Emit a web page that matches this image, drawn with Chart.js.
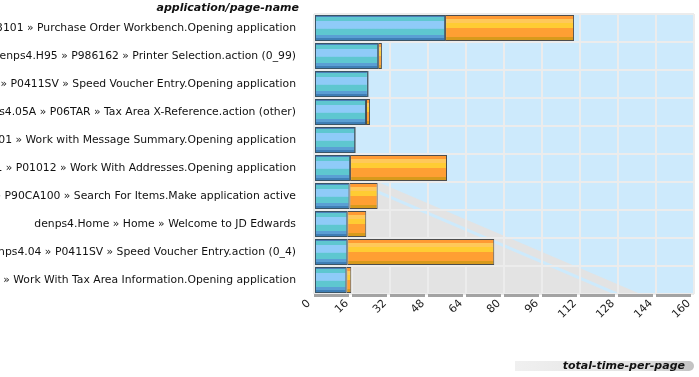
<!DOCTYPE html>
<html>
<head>
<meta charset="utf-8">
<script src="https://cdn.jsdelivr.net/npm/chart.js@4.4.1/dist/chart.umd.min.js"></script>
<style>
    html, body { margin: 0; padding: 0; background: #fff; }
    #wrap { width: 699px; height: 377px; position: relative; }
</style>
</head>
<body>
<div id="wrap"><canvas id="pageChart"></canvas></div>
<script>
    const pageNames = [
        'denps4.W43101A » P43101 » Purchase Order Workbench.Opening application',
        'denps4.H95 » P986162 » Printer Selection.action (0_99)',
        'denps4.W0411SVA » P0411SV » Speed Voucher Entry.Opening application',
        'denps4.05A » P06TAR » Tax Area X-Reference.action (other)',
        'denps4.W012501A » P012501 » Work with Message Summary.Opening application',
        'denps4.W01012B1 » P01012 » Work With Addresses.Opening application',
        'denps4.W90CA100A » P90CA100 » Search For Items.Make application active',
        'denps4.Home » Home » Welcome to JD Edwards',
        'denps4.04 » P0411SV » Speed Voucher Entry.action (0_4)',
        'denps4.W4008A » P4008 » Work With Tax Area Information.Opening application'
    ];
    const serverTime = [55.2, 27.0, 22.7, 21.9, 17.3, 15.2, 14.9, 14.0, 14.0, 13.6];
    const clientTime = [54.3, 1.6, 0.3, 1.7, 0.3, 40.8, 11.9, 8.0, 61.9, 2.1];
    const timeTicks = [0, 16, 32, 48, 64, 80, 96, 112, 128, 144, 160];

    const FONT = '"DejaVu Sans", sans-serif';
    const BAR_PCT = 0.93;

    // horizontal stripes inside each bar
    const blueStripes = [
        [0.00, '#4a80b8'], [0.07, '#5ec7d0'], [0.24, '#8fcbf8'],
        [0.52, '#5ec7d0'], [0.76, '#5a9fd4'], [0.90, '#3f7fb6']
    ];
    const orangeStripes = [
        [0.00, '#ff9a33'], [0.14, '#ffc85a'], [0.30, '#ffcc33'],
        [0.50, '#ff9f33'], [0.86, '#d89a1c']
    ];

    function stripedFill(stripes, fallback) {
        return function(context) {
            const chart = context.chart;
            const yScale = chart.scales.y;
            if (!chart.chartArea || !yScale) return fallback;
            const center = yScale.getPixelForValue(context.dataIndex);
            const half = yScale.height / pageNames.length * BAR_PCT / 2;
            const g = chart.ctx.createLinearGradient(0, center - half, 0, center + half);
            stripes.forEach((s, i) => {
                const next = i + 1 < stripes.length ? stripes[i + 1][0] : 1;
                g.addColorStop(s[0], s[1]);
                g.addColorStop(Math.max(s[0], next - 0.001), s[1]);
            });
            return g;
        };
    }

    // plot background: light blue with the grey diagonal region
    const backdrop = {
        id: 'backdrop',
        beforeDraw(chart) {
            const { ctx, chartArea: a, scales: { x } } = chart;
            ctx.save();
            ctx.beginPath();
            ctx.rect(a.left, a.top, a.right - a.left, a.bottom - a.top);
            ctx.clip();
            ctx.fillStyle = '#cdeafc';
            ctx.fillRect(a.left, a.top, a.right - a.left, a.bottom - a.top);

            const rowH = (a.bottom - a.top) / pageNames.length;
            const x1 = x.getPixelForValue(27), y1 = a.top + rowH * 6;
            const x2 = x.getPixelForValue(137.5), y2 = a.bottom;
            const slope = (y2 - y1) / (x2 - x1);
            const yLeft = y1 - (x1 - a.left) * slope;

            ctx.fillStyle = '#e3e3e3';
            ctx.beginPath();
            ctx.moveTo(a.left, yLeft);
            ctx.lineTo(x2, y2);
            ctx.lineTo(a.left, a.bottom);
            ctx.closePath();
            ctx.fill();

            ctx.strokeStyle = '#cdeafc';
            ctx.lineWidth = 3;
            ctx.beginPath();
            ctx.moveTo(a.left, yLeft + 10);
            ctx.lineTo(x2, y2 + 10);
            ctx.stroke();
            ctx.restore();
        },
        afterDraw(chart) {
            const { ctx, chartArea: a, scales: { x } } = chart;
            ctx.save();
            // broken axis line
            ctx.fillStyle = '#a3a3a3';
            for (let i = 0; i < timeTicks.length - 1; i++) {
                const xa = x.getPixelForValue(timeTicks[i]);
                const xb = x.getPixelForValue(timeTicks[i + 1]);
                ctx.fillRect(xa, a.bottom, xb - xa - 3, 3);
            }

            // axis titles
            ctx.font = 'italic bold 11px ' + FONT;
            ctx.fillStyle = '#111';
            ctx.textAlign = 'right';
            ctx.textBaseline = 'middle';
            ctx.fillText('application/page-name', a.left - 15, 8);

            const pill = ctx.createLinearGradient(515, 0, 694, 0);
            pill.addColorStop(0, '#f0f0f0');
            pill.addColorStop(0.7, '#e2e2e2');
            pill.addColorStop(1, '#c2c2c2');
            ctx.fillStyle = pill;
            ctx.beginPath();
            ctx.moveTo(515, 361);
            ctx.lineTo(689, 361);
            ctx.arc(689, 366, 5, -Math.PI / 2, Math.PI / 2);
            ctx.lineTo(515, 371);
            ctx.closePath();
            ctx.fill();

            ctx.fillStyle = '#111';
            ctx.fillText('total-time-per-page', 685, 366);
            ctx.restore();
        }
    };

    new Chart(document.getElementById('pageChart'), {
        type: 'bar',
        data: {
            labels: pageNames,
            datasets: [
                {
                    label: 'server-time',
                    data: serverTime,
                    backgroundColor: stripedFill(blueStripes, '#5ec7d0'),
                    borderColor: '#3a5566',
                    borderWidth: 1,
                    borderSkipped: false,
                    barPercentage: BAR_PCT,
                    categoryPercentage: 1
                },
                {
                    label: 'client-time',
                    data: clientTime,
                    backgroundColor: stripedFill(orangeStripes, '#ff9f33'),
                    borderColor: '#4d4d4d',
                    borderWidth: 1,
                    borderSkipped: false,
                    barPercentage: BAR_PCT,
                    categoryPercentage: 1
                }
            ]
        },
        options: {
            indexAxis: 'y',
            responsive: true,
            maintainAspectRatio: false,
            animation: false,
            layout: { padding: { top: 14, right: 5, left: 0, bottom: 0 } },
            plugins: {
                legend: { display: false },
                tooltip: { enabled: false }
            },
            scales: {
                x: {
                    stacked: true,
                    min: 0,
                    max: 160,
                    border: { display: false },
                    grid: { color: '#ececec', lineWidth: 2, drawTicks: false },
                    afterBuildTicks: (scale) => {
                        scale.ticks = timeTicks.map(v => ({ value: v }));
                    },
                    afterFit: (scale) => {
                        scale.height = 83;
                        scale.paddingLeft = 0;
                        scale.paddingRight = 0;
                    },
                    ticks: {
                        padding: 3,
                        labelOffset: -5,
                        maxRotation: 45,
                        minRotation: 45,
                        font: { family: FONT, size: 11 },
                        color: '#222'
                    }
                },
                y: {
                    stacked: true,
                    border: { display: false },
                    grid: { color: '#ececec', lineWidth: 2, drawTicks: false },
                    afterFit: (scale) => {
                        scale.width = 314;
                        scale.paddingTop = 0;
                        scale.paddingBottom = 0;
                    },
                    ticks: {
                        autoSkip: false,
                        padding: 18,
                        font: { family: FONT, size: 10.8 },
                        color: '#111'
                    }
                }
            }
        },
        plugins: [backdrop]
    });
</script>
</body>
</html>
